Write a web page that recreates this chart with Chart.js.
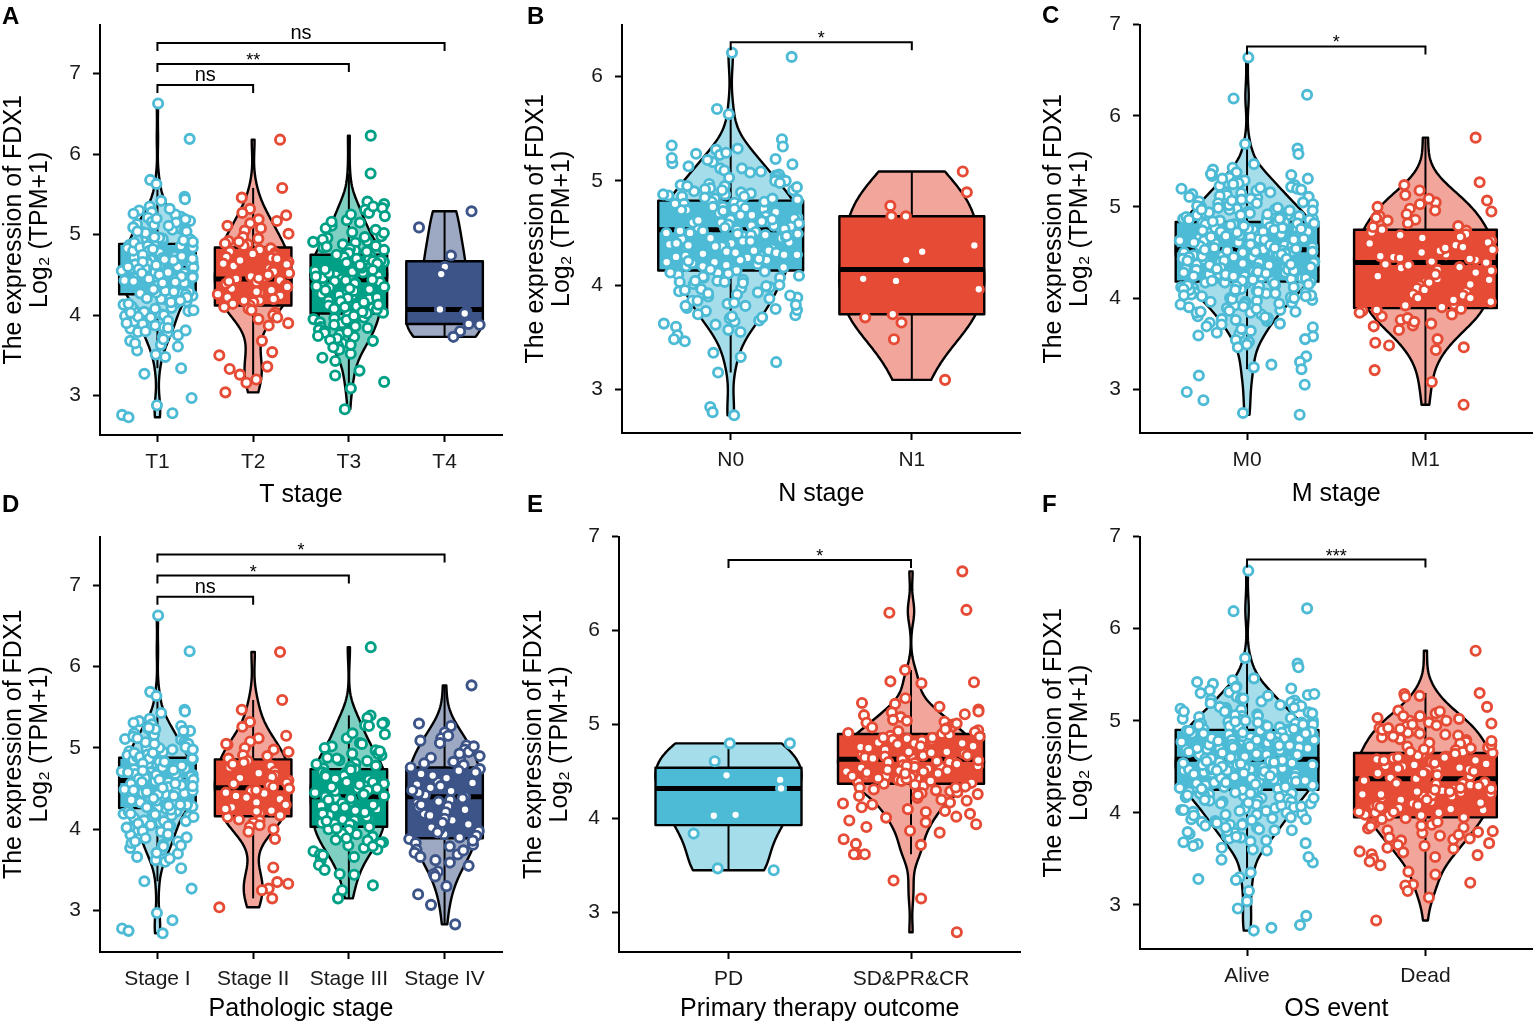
<!DOCTYPE html>
<html>
<head>
<meta charset="utf-8">
<script src="https://cdn.jsdelivr.net/npm/chart.js@4.4.1/dist/chart.umd.min.js"></script>
<style>
  body { margin: 0; background: #fff; width: 1540px; height: 1024px; position: relative; overflow: hidden; font-family: "Liberation Sans", Arial, sans-serif; }
  canvas { position: absolute; }
  .tag { position: absolute; font-weight: bold; font-size: 24px; line-height: 24px; color: #000; }
</style>
</head>
<body>
<canvas id="pA" width="512" height="512" style="left:0;top:0"></canvas>
<canvas id="pB" width="516" height="512" style="left:512px;top:0"></canvas>
<canvas id="pC" width="512" height="512" style="left:1028px;top:0"></canvas>
<canvas id="pD" width="512" height="512" style="left:0;top:512px"></canvas>
<canvas id="pE" width="516" height="512" style="left:512px;top:512px"></canvas>
<canvas id="pF" width="512" height="512" style="left:1028px;top:512px"></canvas>
<div class="tag" style="left:2px;top:4px">A</div>
<div class="tag" style="left:527px;top:4px">B</div>
<div class="tag" style="left:1042px;top:3px">C</div>
<div class="tag" style="left:2px;top:492px">D</div>
<div class="tag" style="left:527px;top:492px">E</div>
<div class="tag" style="left:1042px;top:492px">F</div>
<script>
// ---- data ----
const yTicks = [3, 4, 5, 6, 7];

// A: T stage
const tCats = ['T1', 'T2', 'T3', 'T4'];
const tT1 = [6.63, 6.19, 5.68, 5.63, 5.47, 5.44, 5.42, 5.35, 5.30, 5.28, 5.22, 5.21, 5.17, 5.16, 5.12, 5.10, 5.07, 5.05, 5.04, 5.01, 4.98, 4.95, 4.94, 4.92, 4.89, 4.88, 4.85, 4.84, 4.81, 4.79, 4.78, 4.75, 4.73, 4.72, 4.70, 4.68, 4.66, 4.65, 4.63, 4.61, 4.60, 4.59, 4.57, 4.56, 4.54, 4.52, 4.51, 4.48, 4.46, 4.45, 4.43, 4.40, 4.39, 4.37, 4.35, 4.33, 4.31, 4.30, 4.28, 4.27, 4.24, 4.21, 4.19, 4.15, 4.13, 4.09, 4.07, 4.04, 4.01, 3.97, 3.94, 3.90, 3.85, 3.83, 3.79, 3.75, 3.73, 3.68, 3.63, 3.61, 3.56, 3.51, 3.48, 3.34, 3.27, 2.97, 2.88, 2.78, 2.76, 2.73,
    4.95, 4.87, 4.83, 4.80, 4.76, 4.74, 4.71, 4.69, 4.67, 4.64, 4.62, 4.58, 4.55, 4.53, 4.50, 4.49, 4.47, 4.44, 4.42, 4.38, 4.36, 4.34, 4.32, 4.29, 4.26, 4.23, 4.20, 4.17, 4.11, 4.05, 3.99, 3.92, 3.87, 3.81, 5.06, 5.13, 5.19, 5.25, 5.03, 4.99,
    5.15, 5.09, 5.02, 4.96, 4.90, 4.84, 4.78, 4.73, 4.68, 4.63, 4.58, 4.53, 4.48, 4.43, 4.38, 4.33, 4.28, 4.22, 4.16, 4.08, 4.00, 3.90, 3.78, 4.86, 4.70, 4.55, 4.41, 4.30,
    5.11, 5.04, 4.97, 4.91, 4.86, 4.80, 4.75, 4.71, 4.66, 4.62, 4.57, 4.52, 4.47, 4.42, 4.37, 4.32, 4.27, 4.21, 4.14, 4.06, 3.98, 3.89, 3.80, 3.70, 5.20, 4.93, 4.82, 4.69, 4.60, 4.50, 4.40, 4.29, 4.18, 4.03, 3.93, 3.84, 3.65, 5.32, 5.26, 4.45];
const tT2 = [6.18, 5.58, 5.46, 5.32, 5.27, 5.24, 5.19, 5.14, 5.11, 5.05, 5.01, 4.97, 4.92, 4.88, 4.86, 4.83, 4.79, 4.77, 4.74, 4.71, 4.66, 4.63, 4.58, 4.56, 4.52, 4.48, 4.47, 4.45, 4.43, 4.41, 4.37, 4.33, 4.31, 4.28, 4.24, 4.22, 4.18, 4.16, 4.12, 4.08, 4.03, 4.00, 3.97, 3.90, 3.87, 3.68, 3.54, 3.50, 3.36, 3.33, 3.26, 3.20, 3.16, 3.04,
    4.91, 4.81, 4.72, 4.61, 4.54, 4.46, 4.39, 4.29, 4.20, 4.14, 4.06, 5.08, 5.17, 4.68, 4.35, 4.76, 4.50, 4.26, 4.10, 4.95, 4.89, 4.64, 4.42, 4.18, 3.95, 4.70];
const tT3 = [6.23, 5.76, 5.41, 5.38, 5.33, 5.31, 5.27, 5.23, 5.18, 5.15, 5.11, 5.06, 5.03, 4.98, 4.96, 4.92, 4.90, 4.86, 4.84, 4.80, 4.78, 4.76, 4.74, 4.73, 4.70, 4.67, 4.66, 4.62, 4.61, 4.58, 4.55, 4.53, 4.51, 4.50, 4.47, 4.45, 4.44, 4.42, 4.40, 4.37, 4.34, 4.32, 4.29, 4.26, 4.24, 4.20, 4.18, 4.14, 4.11, 4.09, 4.05, 4.03, 4.01, 3.97, 3.95, 3.91, 3.89, 3.85, 3.82, 3.80, 3.76, 3.73, 3.68, 3.65, 3.62, 3.57, 3.52, 3.47, 3.43, 3.31, 3.25, 3.17, 3.09, 2.83,
    4.94, 4.88, 4.82, 4.77, 4.72, 4.68, 4.64, 4.59, 4.54, 4.49, 4.46, 4.41, 4.36, 4.31, 4.27, 4.22, 4.16, 4.12, 4.07, 4.02, 3.96, 3.90, 3.84, 3.78, 3.71, 3.63, 5.08, 5.16, 5.25, 5.35,
    4.97, 4.85, 4.75, 4.65, 4.56, 4.48, 4.39, 4.30, 4.21, 4.13, 4.04, 3.94, 3.86, 3.74, 4.60, 4.44,
    5.02, 4.91, 4.79, 4.70, 4.62, 4.52, 4.43, 4.35, 4.25, 4.17, 4.08, 3.99, 3.88, 3.79, 3.69, 3.60, 4.81, 4.57, 4.33, 4.10];
const tT4 = [5.29, 5.09, 4.74, 4.60, 4.51, 4.07, 4.04, 4.02, 3.89, 3.88, 3.80, 3.73];
const tQ1 = [4.26, 4.12, 4.02, 3.89];
const tMed = [4.58, 4.45, 4.44, 4.07];
const tQ3 = [4.885, 4.84, 4.75, 4.67];
const tSigPairs = [[0, 3], [0, 2], [0, 1]];
const tSigY = [7.38, 7.12, 6.86];
const tSigText = ['ns', '**', 'ns'];

// B: N stage
const nCats = ['N0', 'N1'];
const nN0 = [6.23, 6.19, 5.69, 5.64, 5.40, 5.33, 5.31, 5.30, 5.26, 5.25, 5.21, 5.18, 5.16, 5.12, 5.10, 5.06, 5.05, 5.02, 5.00, 4.97, 4.95, 4.93, 4.91, 4.89, 4.87, 4.85, 4.83, 4.81, 4.80, 4.78, 4.76, 4.75, 4.73, 4.72, 4.70, 4.68, 4.66, 4.65, 4.64, 4.62, 4.61, 4.59, 4.58, 4.57, 4.55, 4.54, 4.53, 4.51, 4.50, 4.48, 4.47, 4.45, 4.43, 4.42, 4.40, 4.38, 4.37, 4.35, 4.33, 4.31, 4.29, 4.28, 4.26, 4.24, 4.22, 4.20, 4.18, 4.16, 4.14, 4.12, 4.10, 4.07, 4.05, 4.03, 4.01, 3.98, 3.97, 3.94, 3.91, 3.87, 3.85, 3.82, 3.80, 3.77, 3.75, 3.71, 3.68, 3.66, 3.63, 3.60, 3.55, 3.52, 3.48, 3.46, 3.35, 3.31, 3.26, 3.16, 2.83, 2.78, 2.75,
    4.96, 4.92, 4.88, 4.84, 4.82, 4.79, 4.75, 4.72, 4.69, 4.66, 4.63, 4.60, 4.56, 4.54, 4.51, 4.49, 4.46, 4.44, 4.41, 4.39, 4.36, 4.32, 4.29, 4.25, 4.21, 4.17, 4.13, 4.08, 4.04, 3.99, 3.95, 3.89, 3.83, 3.78, 3.72, 3.65, 5.04, 5.09, 5.14, 5.20, 5.27, 5.01, 4.86, 4.77, 4.68, 4.58, 4.47, 4.34, 4.19, 4.02,
    5.17, 5.08, 5.00, 4.94, 4.87, 4.80, 4.74, 4.67, 4.60, 4.55, 4.49, 4.43, 4.37, 4.30, 4.24, 4.18, 4.11, 4.04, 3.96, 3.88, 3.80, 3.70, 4.71, 4.62, 4.45, 4.27, 4.09, 4.90, 4.52, 3.92,
    5.12, 5.03, 4.98, 4.91, 4.85, 4.78, 4.73, 4.67, 4.61, 4.57, 4.52, 4.48, 4.42, 4.38, 4.33, 4.28, 4.22, 4.15, 4.07, 4.00, 3.93, 3.85, 3.76, 3.69, 5.22, 4.95, 4.83, 4.70, 4.63, 4.50, 4.40, 4.31, 4.23, 4.12, 4.03, 3.90, 3.81, 3.62, 3.57, 5.34];
const nN1 = [5.09, 4.89, 4.76, 4.66, 4.66, 4.38, 4.32, 4.24, 4.06, 4.04, 3.96, 3.72, 3.69, 3.64, 3.48, 3.09];
const nQ1 = [4.14, 3.72];
const nMed = [4.53, 4.15];
const nQ3 = [4.81, 4.66];
const nSigPairs = [[0, 1]];
const nSigY = [6.33];
const nSigText = ['*'];

// C: M stage
const mCats = ['M0', 'M1'];
const mM0 = [6.64, 6.23, 6.19, 5.69, 5.64, 5.58, 5.47, 5.43, 5.41, 5.38, 5.35, 5.32, 5.31, 5.28, 5.27, 5.24, 5.22, 5.20, 5.19, 5.16, 5.15, 5.13, 5.11, 5.10, 5.08, 5.06, 5.05, 5.03, 5.01, 5.00, 4.98, 4.97, 4.95, 4.93, 4.92, 4.91, 4.89, 4.87, 4.86, 4.84, 4.83, 4.82, 4.80, 4.79, 4.77, 4.76, 4.75, 4.73, 4.72, 4.70, 4.69, 4.68, 4.66, 4.65, 4.64, 4.62, 4.61, 4.60, 4.58, 4.57, 4.56, 4.54, 4.53, 4.52, 4.50, 4.49, 4.47, 4.46, 4.45, 4.43, 4.42, 4.40, 4.39, 4.37, 4.36, 4.34, 4.33, 4.31, 4.29, 4.28, 4.26, 4.25, 4.23, 4.21, 4.20, 4.18, 4.16, 4.14, 4.12, 4.11, 4.08, 4.06, 4.04, 4.02, 4.00, 3.97, 3.95, 3.92, 3.89, 3.86, 3.84, 3.80, 3.77, 3.75, 3.71, 3.68, 3.64, 3.61, 3.59, 3.54, 3.52, 3.49, 3.46, 3.36, 3.30, 3.27, 3.24, 3.22, 3.15, 3.05, 2.97, 2.88, 2.74, 2.72,
    4.97, 4.94, 4.90, 4.88, 4.85, 4.81, 4.78, 4.74, 4.71, 4.67, 4.63, 4.59, 4.55, 4.51, 4.48, 4.44, 4.41, 4.38, 4.35, 4.32, 4.30, 4.27, 4.24, 4.22, 4.19, 4.15, 4.13, 4.09, 4.05, 4.01, 3.98, 3.93, 3.87, 3.82, 3.78, 3.73, 3.66, 3.58, 5.02, 5.07, 5.12, 5.18, 5.23, 5.29, 5.34, 5.04, 4.96, 4.83, 4.76, 4.69, 4.60, 4.52, 4.47, 4.40, 4.34, 4.26, 4.17, 4.07, 3.96, 3.85,
    5.26, 5.21, 5.14, 5.09, 5.04, 4.99, 4.96, 4.91, 4.88, 4.84, 4.81, 4.78, 4.74, 4.71, 4.68, 4.65, 4.62, 4.58, 4.55, 4.51, 4.48, 4.45, 4.42, 4.38, 4.35, 4.31, 4.28, 4.24, 4.21, 4.17, 4.14, 4.10, 4.06, 4.03, 3.99, 3.94, 3.90, 3.84, 3.79, 3.72, 4.87, 4.73, 4.57, 4.43, 4.29, 4.92, 4.64, 4.50, 4.36, 4.19,
    4.99, 4.95, 4.93, 4.89, 4.86, 4.82, 4.80, 4.77, 4.75, 4.72, 4.70, 4.67, 4.64, 4.61, 4.58, 4.56, 4.54, 4.51, 4.49, 4.46, 4.44, 4.41, 4.39, 4.36, 4.33, 4.30, 4.27, 4.25, 4.22, 4.19, 4.16, 4.13, 4.10, 4.07, 4.03, 4.00, 3.96, 3.91, 3.85, 3.76, 5.01, 5.05, 5.11, 5.16, 5.20, 5.25, 5.31, 5.36, 4.91, 4.84, 4.79, 4.73, 4.68, 4.63, 4.59, 4.53, 4.48, 4.43, 4.37, 4.32, 4.26, 4.20, 4.15, 4.09, 4.02, 3.94, 3.88, 3.69, 3.62, 3.55, 4.97, 4.87, 4.76, 4.65, 4.55, 4.45, 4.34, 4.24, 4.12, 4.05];
const mM1 = [5.76, 5.27, 5.24, 5.18, 5.13, 5.07, 5.05, 5.03, 5.00, 4.98, 4.95, 4.92, 4.90, 4.86, 4.82, 4.79, 4.75, 4.74, 4.70, 4.67, 4.63, 4.61, 4.58, 4.56, 4.53, 4.50, 4.48, 4.45, 4.42, 4.40, 4.39, 4.37, 4.34, 4.31, 4.28, 4.24, 4.21, 4.18, 4.14, 4.11, 4.07, 4.03, 4.00, 3.96, 3.93, 3.90, 3.88, 3.86, 3.82, 3.80, 3.76, 3.72, 3.70, 3.69, 3.65, 3.55, 3.51, 3.48, 3.46, 3.43, 3.21, 3.08, 2.83,
    4.85, 4.66, 4.52, 4.43, 4.33, 4.20, 4.09, 3.98, 3.84, 4.72, 4.96, 4.78, 4.60, 4.46, 4.36, 4.26, 4.15, 4.04, 3.92, 3.78,
    5.09, 4.88, 4.69, 4.55, 4.44, 4.30, 4.17, 4.00, 3.87, 3.74];
const mQ1 = [4.18, 3.89];
const mMed = [4.53, 4.39];
const mQ3 = [4.835, 4.75];
const mSigPairs = [[0, 1]];
const mSigY = [6.76];
const mSigText = ['*'];

// D: Pathologic stage
const sCats = ['Stage I', 'Stage II', 'Stage III', 'Stage IV'];
const sI = [6.63, 6.19, 5.69, 5.64, 5.47, 5.45, 5.43, 5.36, 5.33, 5.29, 5.27, 5.24, 5.21, 5.19, 5.16, 5.13, 5.10, 5.08, 5.06, 5.04, 5.02, 4.99, 4.97, 4.95, 4.93, 4.90, 4.88, 4.86, 4.84, 4.82, 4.80, 4.78, 4.76, 4.74, 4.72, 4.71, 4.69, 4.67, 4.65, 4.64, 4.62, 4.61, 4.60, 4.58, 4.57, 4.55, 4.53, 4.51, 4.50, 4.48, 4.46, 4.44, 4.42, 4.41, 4.39, 4.37, 4.35, 4.33, 4.31, 4.30, 4.28, 4.27, 4.25, 4.22, 4.19, 4.17, 4.14, 4.11, 4.08, 4.05, 4.02, 3.99, 3.96, 3.93, 3.88, 3.85, 3.81, 3.77, 3.74, 3.70, 3.66, 3.62, 3.60, 3.52, 3.36, 3.27, 2.97, 2.88, 2.78, 2.75, 2.72,
    4.96, 4.91, 4.85, 4.81, 4.77, 4.73, 4.70, 4.66, 4.63, 4.59, 4.56, 4.54, 4.52, 4.49, 4.47, 4.43, 4.40, 4.36, 4.34, 4.29, 4.26, 4.21, 4.16, 4.10, 4.04, 3.97, 3.90, 3.83, 5.05, 5.11, 5.18, 5.23, 5.01, 4.98, 4.89, 4.75, 4.68, 4.45, 4.38, 4.32,
    5.14, 5.07, 5.00, 4.94, 4.89, 4.83, 4.78, 4.73, 4.68, 4.63, 4.59, 4.54, 4.49, 4.45, 4.40, 4.35, 4.30, 4.24, 4.18, 4.10, 4.02, 3.92, 3.80, 4.87, 4.71, 4.56, 4.43, 4.29,
    5.12, 5.05, 4.98, 4.92, 4.87, 4.81, 4.76, 4.72, 4.67, 4.62, 4.58, 4.53, 4.48, 4.43, 4.38, 4.33, 4.27, 4.22, 4.15, 4.07, 3.98, 3.89, 3.79, 3.71, 5.21, 4.94, 4.83, 4.70, 4.61, 4.51, 4.41, 4.30, 4.19, 4.04, 3.94, 3.85, 3.64, 5.31, 5.25, 4.46];
const sII = [6.18, 5.59, 5.47, 5.32, 5.26, 5.15, 5.12, 5.08, 5.04, 5.00, 4.95, 4.91, 4.87, 4.84, 4.82, 4.78, 4.75, 4.71, 4.66, 4.64, 4.60, 4.57, 4.54, 4.52, 4.50, 4.47, 4.44, 4.41, 4.37, 4.33, 4.30, 4.27, 4.23, 4.20, 4.17, 4.15, 4.11, 4.08, 4.03, 3.97, 3.88, 3.53, 3.35, 3.33, 3.27, 3.25, 3.15, 3.04,
    4.90, 4.76, 4.63, 4.48, 4.39, 4.25, 4.12, 4.05, 5.05, 4.56, 4.98, 4.69, 4.45, 4.22, 4.00, 4.80];
const sIII = [6.24, 5.40, 5.37, 5.31, 5.30, 5.28, 5.27, 5.17, 5.12, 5.06, 5.02, 4.97, 4.93, 4.91, 4.88, 4.84, 4.81, 4.78, 4.75, 4.74, 4.72, 4.69, 4.66, 4.63, 4.61, 4.58, 4.56, 4.53, 4.50, 4.48, 4.45, 4.42, 4.40, 4.38, 4.35, 4.32, 4.29, 4.26, 4.23, 4.20, 4.17, 4.14, 4.11, 4.08, 4.05, 4.03, 4.00, 3.97, 3.94, 3.91, 3.87, 3.84, 3.80, 3.77, 3.73, 3.69, 3.66, 3.62, 3.56, 3.50, 3.45, 3.44, 3.31, 3.25, 3.15,
    4.85, 4.77, 4.70, 4.62, 4.55, 4.47, 4.41, 4.34, 4.27, 4.19, 4.12, 4.06, 3.99, 3.92, 3.83, 3.75, 5.05, 5.18, 4.93, 3.68,
    4.96, 4.80, 4.68, 4.58, 4.50, 4.43, 4.36, 4.25, 4.15, 4.07, 3.95, 3.86,
    5.00, 4.87, 4.73, 4.65, 4.52, 4.38, 4.30, 4.21, 4.10, 4.01, 3.89, 3.79];
const sIV = [5.77, 5.30, 5.27, 5.19, 5.12, 5.06, 5.03, 4.98, 4.95, 4.90, 4.86, 4.83, 4.79, 4.76, 4.72, 4.68, 4.65, 4.61, 4.58, 4.55, 4.51, 4.47, 4.44, 4.42, 4.40, 4.36, 4.32, 4.28, 4.24, 4.19, 4.15, 4.11, 4.06, 4.02, 3.98, 3.94, 3.90, 3.88, 3.83, 3.79, 3.75, 3.71, 3.66, 3.62, 3.59, 3.55, 3.48, 3.45, 3.42, 3.30, 3.20, 3.07, 2.83,
    4.88, 4.74, 4.63, 4.53, 4.45, 4.34, 4.21, 4.13, 4.00, 3.92, 3.81, 3.69, 5.15, 5.02, 4.27, 4.70, 4.48, 4.30, 4.08, 3.86, 4.93,
    4.81, 4.57, 4.38, 4.17, 3.96, 3.74, 5.09, 4.66];
const sQ1 = [4.26, 4.16, 4.03, 3.89];
const sMed = [4.60, 4.51, 4.40, 4.40];
const sQ3 = [4.88, 4.86, 4.74, 4.76];
const sSigPairs = [[0, 3], [0, 2], [0, 1]];
const sSigY = [7.38, 7.12, 6.86];
const sSigText = ['*', '*', 'ns'];

// E: Primary therapy outcome
const pCats = ['PD', 'SD&PR&CR'];
const pPD = [4.80, 4.80, 4.61, 4.46, 4.41, 4.32, 4.04, 4.03, 3.84, 3.47, 3.45];
const pSD = [6.63, 6.22, 6.19, 5.58, 5.46, 5.45, 5.44, 5.28, 5.23, 5.22, 5.16, 5.13, 5.10, 5.08, 5.05, 5.03, 5.02, 5.00, 4.98, 4.96, 4.94, 4.92, 4.90, 4.89, 4.87, 4.85, 4.83, 4.81, 4.80, 4.78, 4.77, 4.75, 4.73, 4.72, 4.70, 4.68, 4.67, 4.65, 4.64, 4.63, 4.61, 4.60, 4.58, 4.56, 4.55, 4.53, 4.51, 4.50, 4.48, 4.46, 4.45, 4.43, 4.41, 4.39, 4.37, 4.35, 4.33, 4.31, 4.29, 4.27, 4.24, 4.22, 4.17, 4.15, 4.10, 4.07, 4.02, 4.01, 3.94, 3.87, 3.85, 3.78, 3.73, 3.72, 3.62, 3.62, 3.62, 3.34, 3.15, 2.79,
    4.93, 4.88, 4.84, 4.80, 4.76, 4.73, 4.70, 4.66, 4.62, 4.59, 4.57, 4.54, 4.51, 4.47, 4.44, 4.40, 4.38, 4.34, 4.30, 4.25, 4.19, 4.12, 4.05, 3.98, 3.91, 5.04, 5.11, 5.19, 4.97, 4.69,
    4.95, 4.86, 4.79, 4.71, 4.65, 4.60, 4.55, 4.49, 4.43, 4.36, 4.28, 4.20, 4.75, 4.52, 4.42,
    5.01, 4.91, 4.83, 4.77, 4.71, 4.67, 4.61, 4.56, 4.50, 4.45, 4.40, 4.33, 4.26, 4.16, 4.08, 3.96, 4.86, 4.64, 4.48, 5.14];
const pQ1 = [3.93, 4.37];
const pMed = [4.32, 4.63];
const pQ3 = [4.54, 4.90];
const pSigPairs = [[0, 1]];
const pSigY = [6.75];
const pSigText = ['*'];

// F: OS event
const oCats = ['Alive', 'Dead'];
const oAlive = [6.63, 6.22, 6.19, 5.68, 5.62, 5.58, 5.46, 5.44, 5.40, 5.37, 5.35, 5.31, 5.28, 5.26, 5.24, 5.22, 5.20, 5.18, 5.16, 5.14, 5.12, 5.11, 5.09, 5.07, 5.05, 5.04, 5.02, 5.00, 4.99, 4.97, 4.96, 4.94, 4.93, 4.91, 4.90, 4.88, 4.87, 4.85, 4.84, 4.82, 4.81, 4.79, 4.78, 4.76, 4.75, 4.73, 4.72, 4.70, 4.69, 4.68, 4.66, 4.65, 4.63, 4.62, 4.61, 4.59, 4.58, 4.57, 4.55, 4.54, 4.52, 4.51, 4.49, 4.48, 4.46, 4.45, 4.43, 4.42, 4.40, 4.39, 4.37, 4.36, 4.34, 4.32, 4.31, 4.29, 4.27, 4.26, 4.24, 4.22, 4.20, 4.18, 4.16, 4.14, 4.12, 4.10, 4.08, 4.05, 4.03, 4.01, 3.98, 3.96, 3.93, 3.90, 3.87, 3.84, 3.81, 3.78, 3.75, 3.72, 3.69, 3.66, 3.62, 3.59, 3.49, 3.46, 3.35, 3.30, 3.28, 3.27, 3.15, 3.04, 2.96, 2.88, 2.78, 2.75, 2.72,
    4.98, 4.95, 4.92, 4.89, 4.86, 4.83, 4.80, 4.77, 4.74, 4.71, 4.67, 4.64, 4.60, 4.56, 4.53, 4.50, 4.47, 4.44, 4.41, 4.38, 4.35, 4.33, 4.30, 4.28, 4.25, 4.21, 4.17, 4.13, 4.09, 4.04, 3.99, 3.94, 3.88, 3.82, 3.77, 3.70, 5.03, 5.08, 5.13, 5.17, 5.21, 5.27, 5.33, 5.01, 4.96, 4.85, 4.79, 4.70, 4.62, 4.55, 4.49, 4.43, 4.36, 4.29, 4.19, 4.11, 4.02, 3.91, 3.80, 3.64,
    5.29, 5.23, 5.15, 5.10, 5.05, 5.00, 4.97, 4.93, 4.89, 4.86, 4.82, 4.79, 4.76, 4.73, 4.70, 4.66, 4.63, 4.59, 4.56, 4.52, 4.49, 4.46, 4.43, 4.39, 4.36, 4.33, 4.30, 4.26, 4.23, 4.19, 4.15, 4.12, 4.07, 4.03, 3.97, 3.92, 3.86, 3.79, 3.73, 3.67, 4.88, 4.74, 4.61, 4.47, 4.32, 4.95, 4.68, 4.54, 4.41, 4.21,
    5.02, 4.98, 4.94, 4.91, 4.87, 4.84, 4.81, 4.78, 4.75, 4.72, 4.69, 4.66, 4.63, 4.60, 4.57, 4.55, 4.52, 4.50, 4.47, 4.45, 4.42, 4.40, 4.37, 4.34, 4.31, 4.28, 4.25, 4.22, 4.19, 4.16, 4.13, 4.10, 4.06, 4.02, 3.98, 3.93, 3.87, 3.81, 3.74, 3.68, 5.06, 5.10, 5.14, 5.19, 5.24, 5.30, 5.36, 5.42, 4.96, 4.89, 4.83, 4.77, 4.71, 4.65, 4.59, 4.53, 4.48, 4.43, 4.38, 4.33, 4.27, 4.21, 4.14, 4.08, 4.00, 3.95, 3.89, 3.84, 3.60, 3.52, 4.99, 4.86, 4.73, 4.64, 4.56, 4.46, 4.35, 4.26, 4.17, 4.07];
const oDead = [5.76, 5.30, 5.29, 5.27, 5.26, 5.15, 5.08, 5.05, 5.03, 5.00, 4.97, 4.94, 4.92, 4.89, 4.87, 4.84, 4.82, 4.79, 4.77, 4.75, 4.73, 4.71, 4.68, 4.66, 4.65, 4.63, 4.61, 4.59, 4.57, 4.55, 4.53, 4.51, 4.49, 4.47, 4.45, 4.43, 4.41, 4.39, 4.38, 4.36, 4.34, 4.32, 4.30, 4.28, 4.26, 4.24, 4.22, 4.20, 4.18, 4.16, 4.14, 4.12, 4.10, 4.07, 4.05, 4.02, 4.00, 3.97, 3.95, 3.92, 3.89, 3.87, 3.84, 3.81, 3.78, 3.75, 3.72, 3.70, 3.67, 3.64, 3.61, 3.58, 3.55, 3.52, 3.50, 3.47, 3.43, 3.36, 3.33, 3.24, 3.22, 3.21, 3.15, 3.08, 2.83,
    4.91, 4.85, 4.80, 4.74, 4.69, 4.62, 4.58, 4.52, 4.46, 4.42, 4.37, 4.33, 4.29, 4.23, 4.19, 4.13, 4.08, 4.03, 3.98, 3.93, 3.86, 3.79, 3.71, 3.62, 3.54, 5.02, 5.11, 4.96, 4.27, 4.06,
    5.05, 4.98, 4.90, 4.83, 4.76, 4.70, 4.64, 4.57, 4.50, 4.44, 4.40, 4.35, 4.31, 4.25, 4.18, 4.11, 4.04, 3.97, 3.90, 3.83, 4.60, 4.47, 4.21, 4.01, 3.76,
    5.10, 5.00, 4.92, 4.86, 4.78, 4.72, 4.66, 4.60, 4.54, 4.48, 4.43, 4.38, 4.32, 4.26, 4.20, 4.14, 4.08, 4.01, 3.94, 3.88, 3.80, 3.73, 3.65, 3.57, 4.95, 4.69, 4.45, 4.23, 4.00, 3.85];
const oQ1 = [4.25, 3.95];
const oMed = [4.58, 4.37];
const oQ3 = [4.90, 4.65];
const oSigPairs = [[0, 1]];
const oSigY = [6.75];
const oSigText = ['***'];

// ---- drawing ----
const dark = ['#4DBBD5', '#E64B35', '#00A087', '#3C5488'];
const light = ['#A6DDEA', '#F2A59A', '#80CFC3', '#9DA9C3'];
const HALF = 0.4;

// deterministic horizontal spread of the points inside a category
function spread(k) {
    const s = Math.sin(k * 91.73 + 3.1) * 43758.5453;
    return (s - Math.floor(s) - 0.5) * 0.76;
}

function quantile(s, p) {
    const h = (s.length - 1) * p;
    const lo = Math.floor(h);
    return s[lo] + (s[Math.min(lo + 1, s.length - 1)] - s[lo]) * (h - lo);
}

function density(vals) {
    const s = vals.slice().sort((a, b) => a - b);
    const n = s.length;
    const mean = s.reduce((a, b) => a + b, 0) / n;
    const sd = Math.sqrt(s.reduce((a, b) => a + (b - mean) ** 2, 0) / (n - 1));
    const iqr = quantile(s, 0.75) - quantile(s, 0.25);
    const bw = 0.9 * Math.min(sd, iqr / 1.34) * Math.pow(n, -0.2);
    const lo = s[0], hi = s[n - 1];
    const pts = [];
    for (let j = 0; j <= 160; j++) {
        const y = lo + (hi - lo) * j / 160;
        let d = 0;
        for (const v of s) d += Math.exp(-0.5 * ((y - v) / bw) ** 2);
        pts.push([y, d]);
    }
    const mx = Math.max(...pts.map(p => p[1]));
    return pts.map(p => [p[0], p[1] / mx]);
}

function makePanel(id, p) {
    const n = p.cats.length;
    const datasets = p.groups.map((vals, i) => ({
        data: vals.map((v, k) => ({ x: i + spread(k + 17 * i), y: v })),
        pointRadius: 4.6,
        pointBorderWidth: 2.9,
        pointBackgroundColor: '#ffffff',
        pointBorderColor: dark[p.colors[i]],
        backgroundColor: '#ffffff',
        borderColor: dark[p.colors[i]]
    }));

    const shapes = {
        id: 'shapes',
        beforeDatasetsDraw(chart) {
            const ctx = chart.ctx, xs = chart.scales.x, ys = chart.scales.y;
            p.groups.forEach((vals, i) => {
                const c = p.colors[i];
                const cx = xs.getPixelForValue(i);
                const wpx = xs.getPixelForValue(i + HALF) - cx;
                // violin
                const dens = density(vals);
                ctx.save();
                ctx.beginPath();
                dens.forEach(([y, d], j) => {
                    const px = cx + d * wpx, py = ys.getPixelForValue(y);
                    j ? ctx.lineTo(px, py) : ctx.moveTo(px, py);
                });
                for (let j = dens.length - 1; j >= 0; j--) {
                    ctx.lineTo(cx - dens[j][1] * wpx, ys.getPixelForValue(dens[j][0]));
                }
                ctx.closePath();
                ctx.fillStyle = light[c];
                ctx.fill();
                ctx.lineWidth = 2.4;
                ctx.lineJoin = 'round';
                ctx.strokeStyle = '#000';
                ctx.stroke();
                // whiskers
                const q1 = p.q1[i], q3 = p.q3[i], iqr = q3 - q1;
                const hiW = Math.max(...vals.filter(v => v <= q3 + 1.5 * iqr));
                const loW = Math.min(...vals.filter(v => v >= q1 - 1.5 * iqr));
                ctx.lineWidth = 2;
                ctx.beginPath();
                ctx.moveTo(cx, ys.getPixelForValue(hiW));
                ctx.lineTo(cx, ys.getPixelForValue(loW));
                ctx.stroke();
                // box
                const top = ys.getPixelForValue(q3), bot = ys.getPixelForValue(q1);
                ctx.fillStyle = dark[c];
                ctx.fillRect(cx - wpx, top, 2 * wpx, bot - top);
                ctx.lineWidth = 2.4;
                ctx.strokeRect(cx - wpx, top, 2 * wpx, bot - top);
                // median
                const my = ys.getPixelForValue(p.med[i]);
                ctx.lineWidth = 5;
                ctx.beginPath();
                ctx.moveTo(cx - wpx, my);
                ctx.lineTo(cx + wpx, my);
                ctx.stroke();
                ctx.restore();
            });
        },
        afterDatasetsDraw(chart) {
            const ctx = chart.ctx, xs = chart.scales.x, ys = chart.scales.y;
            ctx.save();
            ctx.strokeStyle = '#000';
            ctx.fillStyle = '#000';
            ctx.lineWidth = 2;
            ctx.textAlign = 'center';
            p.sigPairs.forEach(([a, b], k) => {
                const x1 = xs.getPixelForValue(a), x2 = xs.getPixelForValue(b);
                const y = ys.getPixelForValue(p.sigY[k]);
                ctx.beginPath();
                ctx.moveTo(x1, y + 8);
                ctx.lineTo(x1, y);
                ctx.lineTo(x2, y);
                ctx.lineTo(x2, y + 8);
                ctx.stroke();
                const t = p.sigText[k];
                if (t.includes('*')) {
                    ctx.font = '18px "Liberation Sans", Arial, sans-serif';
                    ctx.fillText(t, (x1 + x2) / 2, y + 2);
                } else {
                    ctx.font = '20px "Liberation Sans", Arial, sans-serif';
                    ctx.fillText(t, (x1 + x2) / 2, y - 4);
                }
            });
            ctx.restore();
        }
    };

    new Chart(document.getElementById(id), {
        type: 'scatter',
        data: { datasets },
        options: {
            responsive: false,
            animation: false,
            events: [],
            elements: { point: { radius: 4.6, borderWidth: 2.9, hoverRadius: 4.6, hoverBorderWidth: 2.9 } },
            layout: { padding: { left: 0, right: p.padRight, top: p.padTop, bottom: 0 } },
            plugins: { legend: { display: false }, tooltip: { enabled: false } },
            scales: {
                x: {
                    type: 'linear',
                    min: -0.6,
                    max: n - 0.4,
                    afterBuildTicks: s => { s.ticks = p.cats.map((c, i) => ({ value: i })); },
                    afterFit: s => { s.height = p.xAxisH; },
                    ticks: {
                        callback: v => p.cats[v],
                        font: { size: 21, family: '"Liberation Sans", Arial, sans-serif' },
                        color: '#1a1a1a',
                        padding: 8,
                        autoSkip: false,
                        maxRotation: 0
                    },
                    grid: { drawOnChartArea: false, drawTicks: true, tickLength: 7, tickWidth: 2, tickColor: '#000' },
                    border: { display: true, color: '#000', width: 2 },
                    title: {
                        display: true,
                        text: p.xTitle,
                        color: '#000',
                        font: { size: 25, lineHeight: 1.05, family: '"Liberation Sans", Arial, sans-serif' },
                        padding: { top: 0, bottom: p.xTitlePad }
                    }
                },
                y: {
                    type: 'linear',
                    min: p.ymin,
                    max: p.ymax,
                    afterBuildTicks: s => { s.ticks = yTicks.filter(t => t >= p.ymin && t <= p.ymax + 1e-9).map(t => ({ value: t })); },
                    afterFit: s => { s.width = p.yAxisW; },
                    ticks: {
                        font: { size: 21, family: '"Liberation Sans", Arial, sans-serif' },
                        color: '#1a1a1a',
                        padding: 12
                    },
                    grid: { drawOnChartArea: false, drawTicks: true, tickLength: 7, tickWidth: 2, tickColor: '#000' },
                    border: { display: true, color: '#000', width: 2 },
                    title: {
                        display: true,
                        text: ['The expression of FDX1', 'Log\u2082 (TPM+1)'],
                        color: '#000',
                        font: { size: 25, lineHeight: 1.05, family: '"Liberation Sans", Arial, sans-serif' },
                        padding: { top: p.yTitlePad, bottom: 0 }
                    }
                }
            }
        },
        plugins: [shapes]
    });
}

makePanel('pA', {
    cats: tCats, groups: [tT1, tT2, tT3, tT4], colors: [0, 1, 2, 3],
    q1: tQ1, med: tMed, q3: tQ3, sigPairs: tSigPairs, sigY: tSigY, sigText: tSigText,
    xTitle: 'T stage', ymin: 2.51, ymax: 7.61,
    yAxisW: 100, padTop: 13, padRight: 10, xAxisH: 77, yTitlePad: 1, xTitlePad: 4
});
makePanel('pB', {
    cats: nCats, groups: [nN0, nN1], colors: [0, 1],
    q1: nQ1, med: nMed, q3: nQ3, sigPairs: nSigPairs, sigY: nSigY, sigText: nSigText,
    xTitle: 'N stage', ymin: 2.58, ymax: 6.50,
    yAxisW: 110, padTop: 13, padRight: 3, xAxisH: 79, yTitlePad: 11, xTitlePad: 5
});
makePanel('pC', {
    cats: mCats, groups: [mM0, mM1], colors: [0, 1],
    q1: mQ1, med: mMed, q3: mQ3, sigPairs: mSigPairs, sigY: mSigY, sigText: mSigText,
    xTitle: 'M stage', ymin: 2.52, ymax: 7.0,
    yAxisW: 112, padTop: 13, padRight: 1, xAxisH: 79, yTitlePad: 13, xTitlePad: 5
});
makePanel('pD', {
    cats: sCats, groups: [sI, sII, sIII, sIV], colors: [0, 1, 2, 3],
    q1: sQ1, med: sMed, q3: sQ3, sigPairs: sSigPairs, sigY: sSigY, sigText: sSigText,
    xTitle: 'Pathologic stage', ymin: 2.49, ymax: 7.60,
    yAxisW: 100, padTop: 18, padRight: 10, xAxisH: 72, yTitlePad: 1, xTitlePad: 2
});
makePanel('pE', {
    cats: pCats, groups: [pPD, pSD], colors: [0, 1],
    q1: pQ1, med: pMed, q3: pQ3, sigPairs: pSigPairs, sigY: pSigY, sigText: pSigText,
    xTitle: 'Primary therapy outcome', ymin: 2.58, ymax: 7.0,
    yAxisW: 107, padTop: 17, padRight: 6, xAxisH: 72, yTitlePad: 9, xTitlePad: 2
});
makePanel('pF', {
    cats: oCats, groups: [oAlive, oDead], colors: [0, 1],
    q1: oQ1, med: oMed, q3: oQ3, sigPairs: oSigPairs, sigY: oSigY, sigText: oSigText,
    xTitle: 'OS event', ymin: 2.52, ymax: 7.0,
    yAxisW: 112, padTop: 17, padRight: 1, xAxisH: 75, yTitlePad: 13, xTitlePad: 2
});
</script>
</body>
</html>
